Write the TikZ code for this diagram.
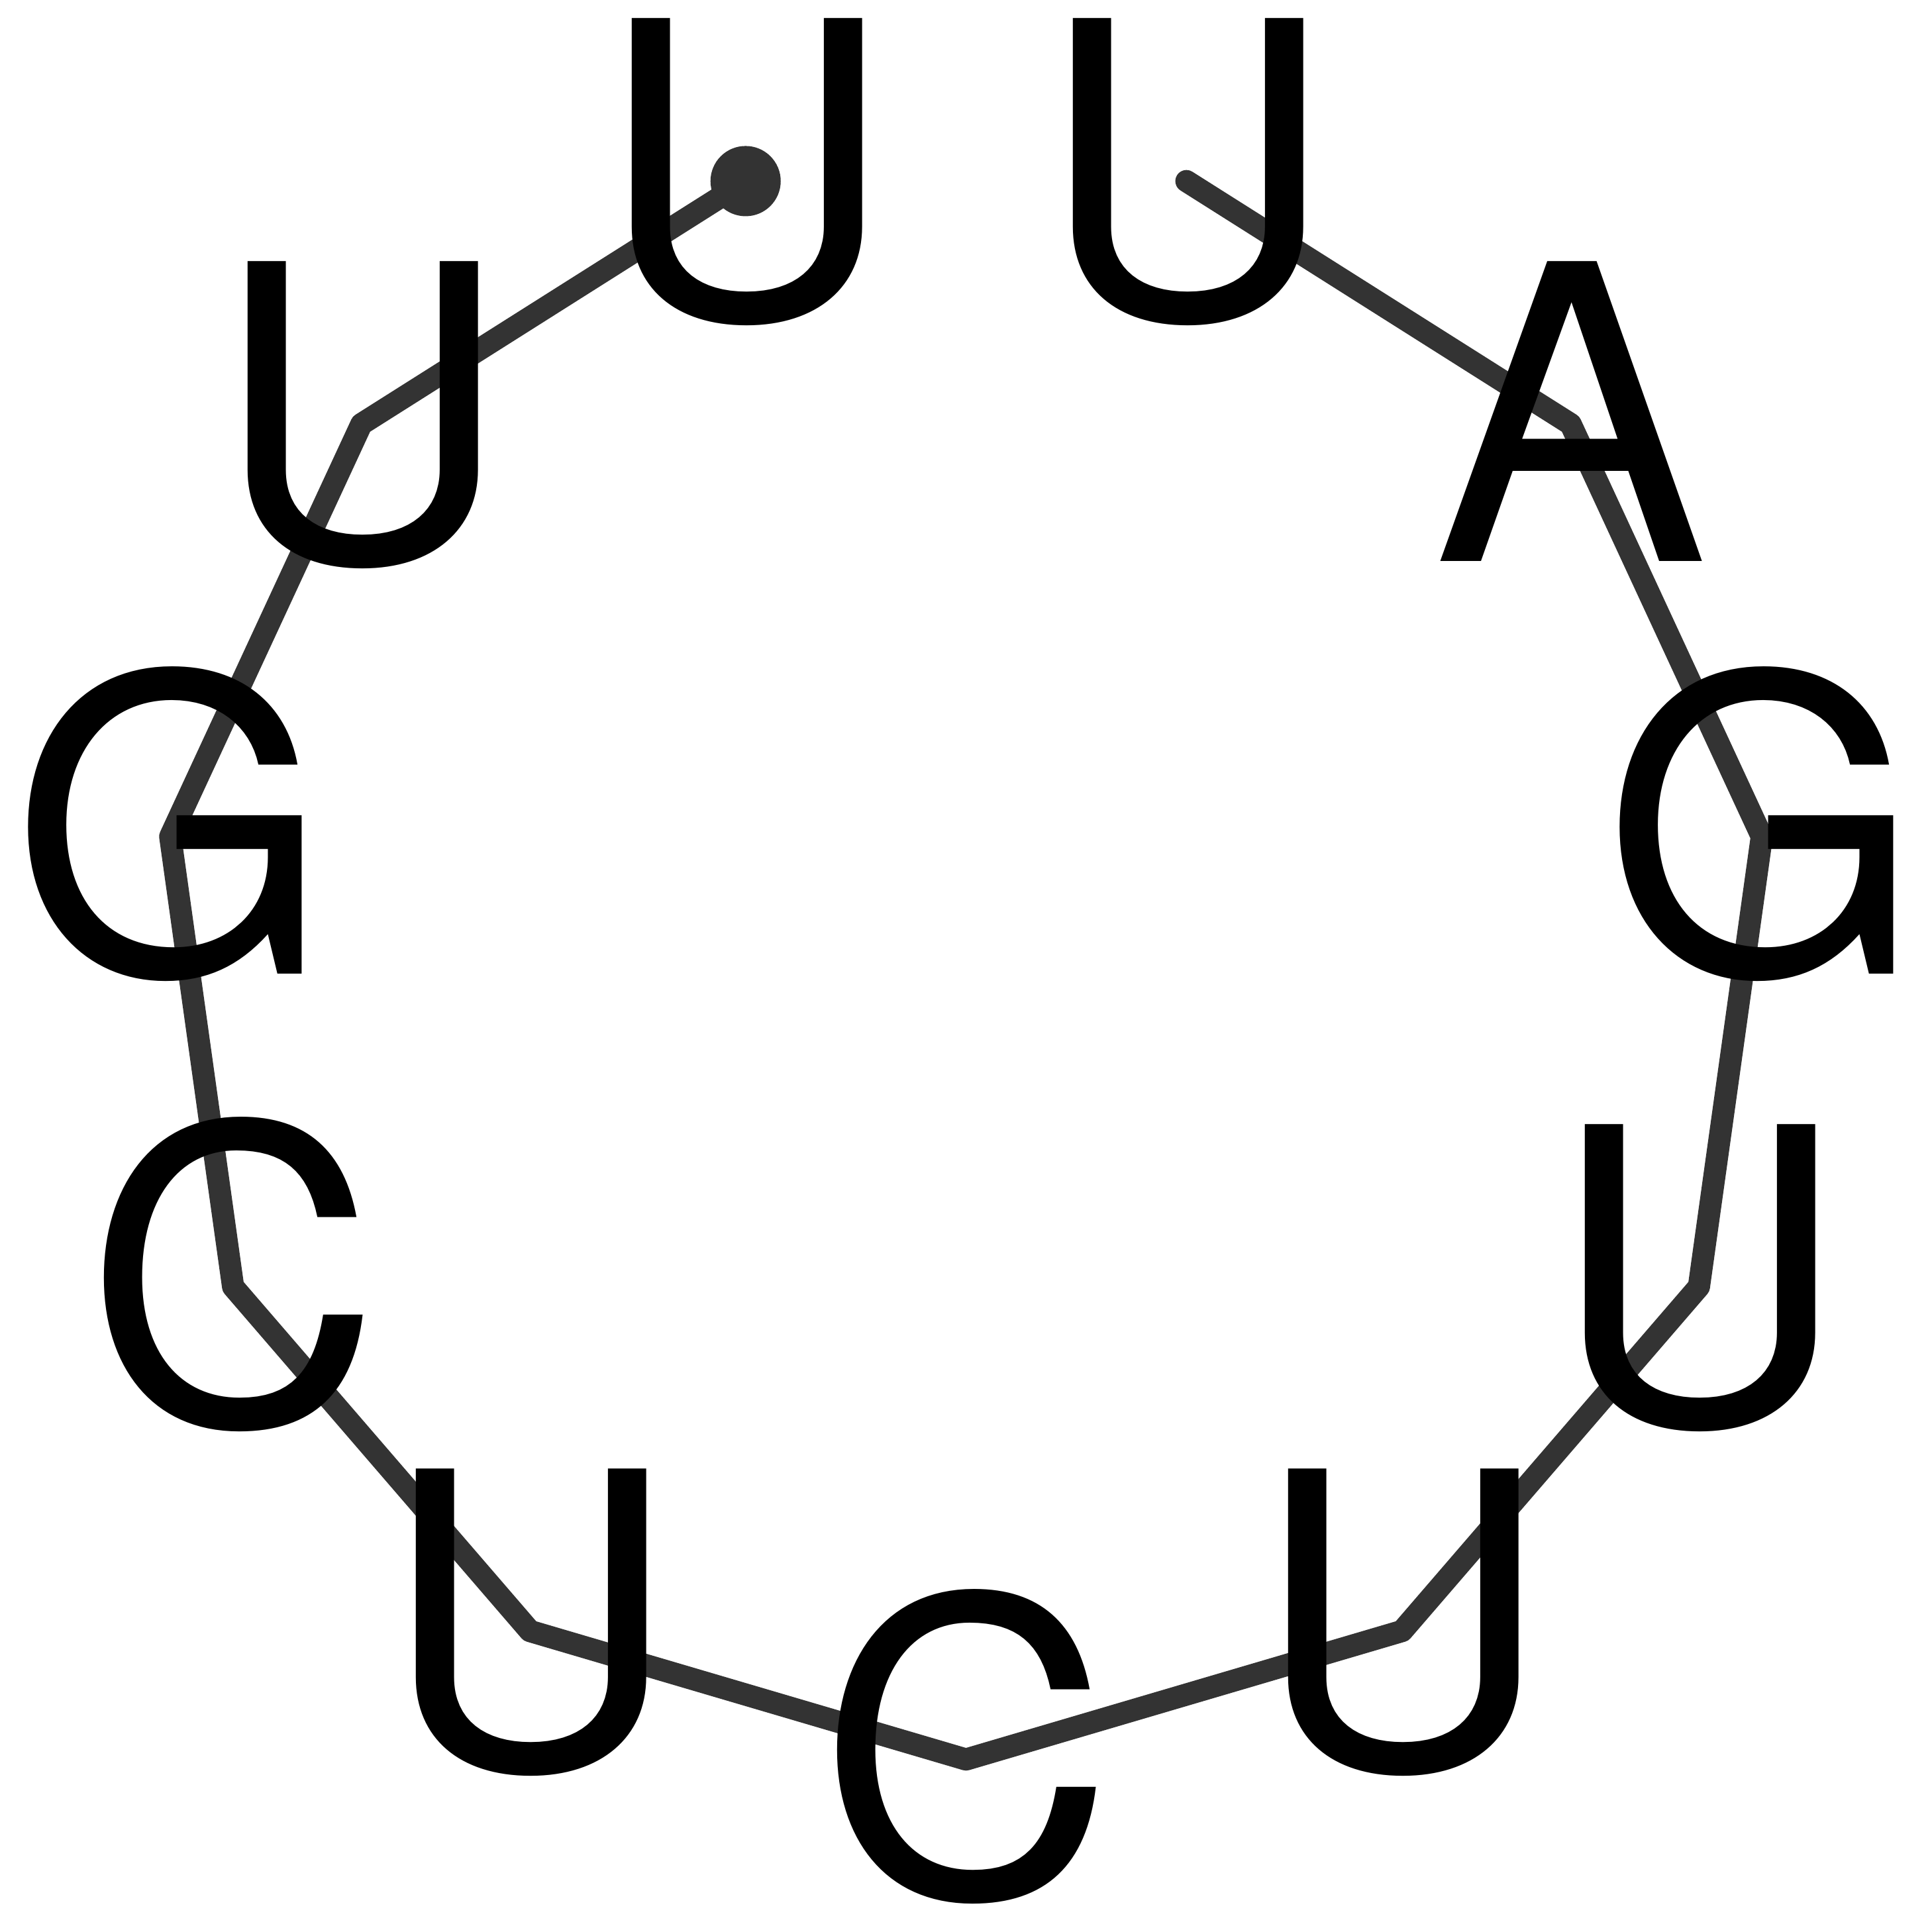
\documentclass[tikz,border=0pt]{standalone}
\usepackage{fontspec}
\setmainfont{TeX Gyre Heros}
\usetikzlibrary{calc}
\definecolor{backbonegray}{HTML}{333333}
\tikzset{
    backbone/.style={draw=backbonegray, line width=0.18cm, line cap=round, line join=round},
    nuc/.style={font=\fontsize{95pt}{95pt}\selectfont, anchor=base, yshift=-1.115cm, inner sep=0pt},
  }

\begin{document}
\begin{tikzpicture}
  \useasboundingbox (0,0) rectangle (15.68,15.68);
  %centre de la boucle
  \coordinate (O) at (7.84,7.93);

  %sommets
  \foreach \i in {1,...,11}
     \coordinate (v\i) at ($(O)+({105.9+(\i-1)*32.82}:6.53)$);

  %squelette
  \draw[backbone] (v1) foreach \i in {2,...,11}{ -- (v\i)};
  \fill[backbonegray] (v1) circle (0.285);

  %bases
  \foreach \b [count=\i] in {U,U,G,C,U,C,U,U,G,A,U}
     \node[nuc] (n\i) at (v\i) {\b};
\end{tikzpicture}
\end{document}
